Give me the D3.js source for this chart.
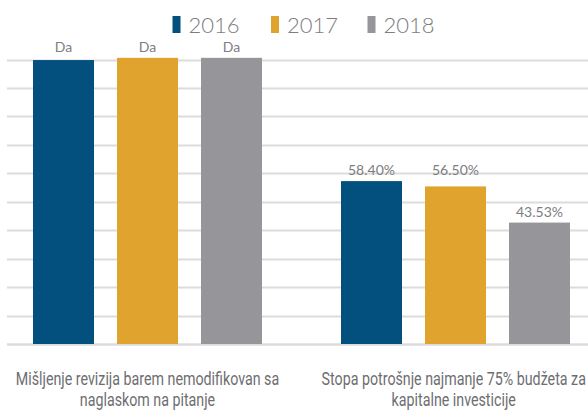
<!DOCTYPE html>
<html>
<head>
<meta charset="utf-8">
<script src="https://cdn.jsdelivr.net/npm/d3@7"></script>
<style>
  body { margin: 0; background: #fff; }
  svg { display: block; }
</style>
</head>
<body>
<script>
// data
const years = ["2016", "2017", "2018"];
const categories = [
  ["Mišljenje revizija barem nemodifikovan sa", "naglaskom na pitanje"],
  ["Stopa potrošnje najmanje 75% budžeta za", "kapitalne investicije"]
];
// first group is a yes/no indicator ("Da") drawn as full bars
const values = [
  [101.8, 102.6, 102.6],
  [58.4, 56.5, 43.53]
];
const labels = [
  ["Da", "Da", "Da"],
  ["58.40%", "56.50%", "43.53%"]
];
const colors = ["#03507e", "#e0a42e", "#96969a"];

const width = 588, height = 410;
const yMax = 102;

const svg = d3.select("body").append("svg")
    .attr("width", width)
    .attr("height", height);

const x0 = d3.scaleBand()
    .domain(d3.range(categories.length))
    .range([0, 603])
    .paddingInner(0.1818)
    .paddingOuter(0.0698);

const x1 = d3.scaleBand()
    .domain(years)
    .range([0, x0.bandwidth()])
    .paddingInner(0.274)
    .paddingOuter(0.137);

const y = d3.scaleLinear()
    .domain([0, yMax])
    .range([344, 59.5]);

// gridlines
svg.append("g")
  .selectAll("line")
  .data(d3.range(11).map(i => yMax * i / 10))
  .join("line")
    .attr("x1", 7)
    .attr("x2", width)
    .attr("y1", d => Math.round(y(d)) + 0.5)
    .attr("y2", d => Math.round(y(d)) + 0.5)
    .attr("stroke", "#dcdcdc")
    .attr("stroke-width", d => d === 0 ? 2.5 : 2);

// bars
const groups = svg.append("g")
  .selectAll("g")
  .data(values)
  .join("g")
    .attr("transform", (d, i) => `translate(${x0(i)},0)`);

groups.selectAll("rect")
  .data(d => d.map((v, j) => ({v, year: years[j], j})))
  .join("rect")
    .attr("x", d => x1(d.year))
    .attr("width", x1.bandwidth())
    .attr("y", d => y(d.v))
    .attr("height", d => y(0) - y(d.v))
    .attr("fill", d => colors[d.j]);

// value labels: neighbours with similar heights share the higher label line
groups.each(function(vals, gi) {
  const ly = vals.map(v => y(v) - 6);
  for (let j = 1; j < ly.length; j++) {
    if (Math.abs(ly[j] - ly[j - 1]) < 20) ly[j] = Math.min(ly[j], ly[j - 1]);
  }
  for (let j = ly.length - 2; j >= 0; j--) {
    if (Math.abs(ly[j] - ly[j + 1]) < 20) ly[j] = Math.min(ly[j], ly[j + 1]);
  }
  d3.select(this).selectAll("text")
    .data(vals.map((v, j) => ({j, ly: ly[j]})))
    .join("text")
      .attr("x", d => x1(years[d.j]) + x1.bandwidth() / 2)
      .attr("y", d => d.ly)
      .attr("text-anchor", "middle")
      .attr("font-family", "Lato, 'Open Sans', sans-serif")
      .attr("font-size", 14)
      .attr("fill", "#7d7d7f")
      .text(d => labels[gi][d.j]);
});

// category labels, condensed horizontally (the original uses a narrow face)
const sx = 0.75;
svg.append("g")
  .selectAll("text")
  .data(categories)
  .join("text")
    .attr("text-anchor", "middle")
    .attr("font-family", "Roboto, sans-serif")
    .attr("font-size", 19)
    .attr("fill", "#6d6e71")
    .each(function(lines, i) {
      const t = d3.select(this);
      t.selectAll("tspan")
        .data(lines)
        .join("tspan")
          .attr("x", 0)
          .attr("y", (d, k) => 385 + k * 21)
          .text(d => d);
      // keep the label inside the picture
      const half = this.getBBox().width * sx / 2;
      let cx = x0(i) + x0.bandwidth() / 2;
      cx = Math.min(cx, width - 2 - half);
      t.attr("transform", `translate(${cx},0) scale(${sx},1)`);
    });

// legend
const legendX = [172.5, 271, 367.5];
const legend = svg.append("g")
  .selectAll("g")
  .data(years)
  .join("g")
    .attr("transform", (d, i) => `translate(${legendX[i]},0)`);

legend.append("rect")
    .attr("y", 16)
    .attr("width", 8)
    .attr("height", 17)
    .attr("fill", (d, i) => colors[i]);

legend.append("text")
    .attr("x", 16)
    .attr("y", 33)
    .attr("font-family", "Lato, 'Open Sans', sans-serif")
    .attr("font-weight", 300)
    .attr("font-size", 22)
    .attr("fill", "#7d7d7f")
    .text(d => d);
</script>
</body>
</html>
